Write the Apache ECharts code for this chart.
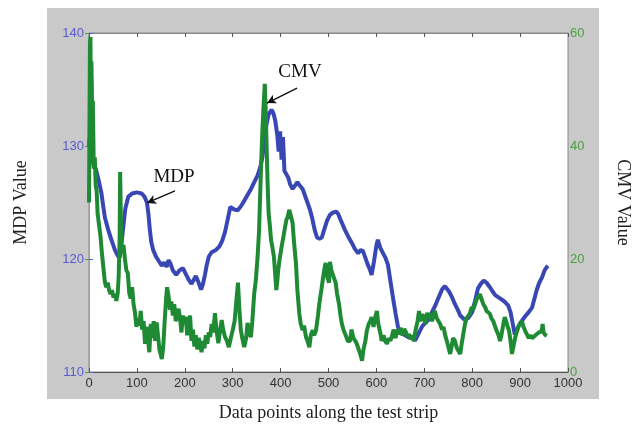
<!DOCTYPE html>
<html>
<head>
<meta charset="utf-8">
<script src="https://cdn.jsdelivr.net/npm/echarts@6/dist/echarts.min.js"></script>
<style>html,body{margin:0;padding:0;background:#fff;}#c{width:637px;height:428px;}</style>
</head>
<body>
<div id="c"></div>
<script>
// X tick labels
const xTicks = [0,100,200,300,400,500,600,700,800,900,1000];
// MDP series: [data point index, MDP value]
const mdpData = [[0,130],[2,130.8],[5,129.5],[9,128.4],[14,128],[20,127],[26,125.8],[33,123.7],[40,122.6],[46,121.8],[54,120.8],[60,120.3],[64,120.1],[68,121.5],[72,123],[76,124.5],[82,125.5],[90,125.8],[100,125.9],[110,125.8],[116,125.5],[121,125],[124,124],[127,122.6],[130,121.5],[134,120.8],[140,120.2],[146,119.8],[152,119.4],[157,119.7],[162,119.3],[166,119.9],[170,119.6],[175,119.0],[182,118.6],[189,119.0],[196,119.2],[203,118.6],[209,118.1],[214,117.8],[218,117.9],[223,118.5],[228,118.0],[234,117.3],[238,117.8],[242,118.6],[246,119.5],[250,120.2],[256,120.6],[265,120.8],[272,121.1],[278,121.6],[284,122.4],[290,123.6],[295,124.6],[302,124.4],[310,124.3],[316,124.6],[322,125],[330,125.6],[337,126.1],[345,126.8],[352,127.4],[358,128.2],[362,129],[366,130.5],[370,131.8],[375,132.8],[381,133.2],[385,132.9],[389,132.2],[393,131],[396,129.5],[399,131.3],[402,128.8],[405,130.8],[408,127.8],[412,127.5],[416,127.2],[420,126.6],[425,126.2],[430,126.5],[435,126.8],[440,126.5],[446,126.2],[451,125.6],[456,125],[461,124.4],[466,123.6],[471,122.6],[476,121.9],[481,121.8],[486,121.9],[491,122.6],[497,123.4],[503,123.9],[509,124.1],[516,124.2],[520,124],[527,123.3],[534,122.6],[541,122],[549,121.4],[555,120.9],[562,120.5],[567,120.8],[572,120.7],[577,120.1],[582,119.5],[587,119],[590,118.6],[595,119.8],[600,121.2],[603,121.7],[608,121],[614,120.5],[619,120.1],[624,119.5],[628,118.4],[632,117.3],[636,116.2],[640,115.2],[645,114],[650,113.5],[658,113.3],[666,113.1],[674,113],[681,112.8],[688,113.4],[695,114],[701,114.3],[708,114.6],[715,115.2],[722,115.8],[729,116.5],[737,117.3],[743,117.6],[747,117.5],[752,117.1],[758,116.6],[764,116],[770,115.5],[775,115],[780,114.8],[785,114.6],[792,114.8],[800,115.3],[806,116.3],[812,117.4],[818,117.8],[824,118.1],[830,117.9],[837,117.5],[843,117.1],[848,116.8],[855,116.6],[862,116.4],[868,116.2],[875,115.9],[880,115.3],[885,114.2],[889,113.3],[894,113.8],[900,114.3],[905,114.6],[910,114.9],[918,115.3],[925,115.7],[930,116.5],[935,117.3],[940,117.9],[946,118.4],[951,119],[956,119.3],[958,119.4]];
// CMV series: [data point index, CMV value]
const cmvData = [[0,30],[2,58],[3,59.3],[4,45],[5,55],[6,50],[7,40],[8,48],[9,42],[10,36],[12,38],[14,33],[16,32],[18,28],[21,26],[24,24],[27,21],[30,18.5],[33,16],[36,15],[39,15.8],[42,14.5],[45,13.8],[48,14.5],[51,13.2],[54,13.8],[57,12.6],[60,14],[62,17],[64,24],[65,35.4],[66,30],[67,24],[69,21],[72,22.5],[75,20],[78,18],[81,17.5],[84,14],[87,13],[90,15],[93,12],[96,10.5],[99,8],[102,9.5],[105,8.2],[108,10.8],[111,7.5],[114,9],[117,5],[120,8],[123,6],[126,3.5],[129,8.5],[132,6],[135,9],[138,5.5],[141,8.8],[144,6.5],[147,4],[150,3],[152,2.3],[155,4.5],[158,9],[161,13],[163,15],[166,13.5],[169,11],[172,12.5],[175,10],[178,12],[181,9],[184,10],[187,11.2],[190,9.5],[193,7],[196,10],[199,8.5],[202,9.8],[205,6.5],[208,8],[211,10],[214,5.5],[217,7.5],[220,4.5],[223,6.5],[226,4],[229,6],[232,5],[235,3.5],[238,5.5],[241,4.2],[244,6.5],[247,5],[250,7],[253,6.2],[256,8.5],[259,7],[263,10.4],[266,7.5],[270,5.1],[273,7],[277,9.2],[280,7.5],[284,6.2],[288,5.5],[292,4.4],[296,6],[300,7.4],[304,9],[307,12],[311,15.8],[314,11],[317,7.4],[320,6],[324,4.4],[328,6],[331,8.7],[334,7],[338,6.2],[341,9],[345,14],[348,16],[352,20.4],[355,25],[359,35.8],[362,42.8],[365,48],[367,51],[369,46],[371,39.3],[373,33],[375,28.1],[378,25.5],[380,23.4],[383,22],[386,20.4],[389,17],[391,14.5],[393,16],[395,18],[398,20],[401,21.6],[405,23.5],[408,25],[412,26.9],[415,27.5],[418,28.7],[421,27.8],[425,26.4],[428,23],[432,19.3],[435,14.5],[439,10.4],[442,8.5],[446,7.4],[449,8.2],[453,6.2],[456,5.5],[460,4.4],[463,6.5],[467,7.4],[470,6.5],[474,7.4],[478,10],[481,12.2],[485,14.5],[488,16.3],[491,18],[494,19.3],[497,17],[501,15.8],[503,19.5],[506,18],[508,17.5],[512,16.5],[515,15.8],[518,13.8],[522,12],[525,10],[528,8.5],[532,7.3],[536,6.5],[540,5.5],[545,5.5],[548,7.5],[552,6],[556,5.5],[559,5],[563,4],[567,3],[570,2],[573,4],[577,5.5],[580,7.3],[584,8.5],[587,9],[590,9.7],[594,8],[597,9.5],[601,10.8],[604,8.5],[608,7],[611,5.5],[615,6.5],[618,5.5],[622,5],[626,6],[629,5.5],[632,6.2],[636,7.5],[640,6],[643,7.5],[647,6.7],[651,7.8],[654,6.5],[658,7.6],[662,7],[665,6.2],[668,6.7],[672,5.8],[675,6.5],[678,5.5],[682,7.5],[686,9],[689,10.8],[692,9],[696,10.2],[699,9.7],[703,8.5],[706,10.5],[709,9.5],[712,10.3],[716,9],[719,10],[722,10.8],[726,9.5],[729,9.8],[733,8.5],[737,7.5],[740,8],[743,6.7],[747,5.5],[750,4.5],[754,3.2],[757,4.5],[760,6],[764,5.5],[768,4.2],[771,4],[775,3.2],[778,5],[782,7],[785,8.5],[788,9.5],[792,9.8],[795,10.3],[799,11.5],[802,11],[806,12],[809,12.8],[812,13.2],[816,13.8],[820,12.8],[823,12],[827,11.5],[830,10.8],[833,11],[837,10.3],[840,9.5],[844,9],[848,8],[851,7.3],[855,6.5],[858,5.5],[861,6.5],[865,8.5],[868,9.7],[871,9],[874,8],[877,7.3],[880,5.5],[883,3.2],[886,4.5],[890,6.2],[894,7.3],[897,8.2],[901,8.5],[904,9],[907,8],[911,7.2],[914,6.7],[918,6],[921,6.5],[925,6],[929,6.2],[932,6.5],[936,6.3],[939,7],[942,6.7],[945,7.2],[947,8.5],[949,7],[952,6.6],[956,6.4]];
// Annotations (data coordinates on MDP axis)
const annoLabels = [{name:'MDP', coord:[177.5,127.26]},{name:'CMV', coord:[440.5,136.55]}];
const annoArrows = [[[179.5,126.02],[121.1,124.96]],[[434.2,135.13],[371.6,133.8]]];

const chart = echarts.init(document.getElementById('c'), null, {renderer:'canvas'});
const serif = 'Liberation Serif';
const sans = 'Liberation Sans';
chart.setOption({
  animation:false,
  backgroundColor:'#ffffff',
  graphic:[{type:'rect', z:-10, shape:{x:47,y:8,width:552,height:391}, style:{fill:'#c9c9c9'}}],
  grid:{left:89,right:69,top:33,bottom:56,containLabel:false,outerBoundsMode:'none',show:true,backgroundColor:'#ffffff',borderColor:'#8a8a8a',borderWidth:1},
  xAxis:[{
    type:'value',min:0,max:1000,interval:100,position:'bottom',
    name:'Data points along the test strip',nameLocation:'middle',nameGap:32,
    nameTextStyle:{fontFamily:serif,fontSize:18,color:'#222'},
    axisLine:{lineStyle:{color:'#555',width:1}},
    axisTick:{inside:true,length:4,lineStyle:{color:'#555'}},
    axisLabel:{fontFamily:sans,fontSize:13,color:'#333',margin:5,formatter:v=>xTicks.includes(v)?String(v):''},
    splitLine:{show:false}
  },{
    type:'value',min:0,max:1000,interval:100,position:'top',
    axisLine:{lineStyle:{color:'#888',width:1}},
    axisTick:{inside:true,length:4,lineStyle:{color:'#555'}},
    axisLabel:{show:false},splitLine:{show:false}
  }],
  yAxis:[{
    type:'value',min:110,max:140,interval:10,position:'left',
    name:'MDP Value',nameLocation:'middle',nameGap:59,nameRotate:90,
    nameTextStyle:{fontFamily:serif,fontSize:18,color:'#222'},
    axisLine:{show:true,lineStyle:{color:'#8a8ae0',width:1}},
    axisTick:{inside:true,length:4,lineStyle:{color:'#5a5ad0'}},
    axisLabel:{fontFamily:sans,fontSize:13,color:'#5a5ad0',margin:5},
    splitLine:{show:false}
  },{
    type:'value',min:0,max:60,interval:20,position:'right',
    name:'CMV Value',nameLocation:'middle',nameGap:46,nameRotate:-90,
    nameTextStyle:{fontFamily:serif,fontSize:18,color:'#222'},
    axisLine:{show:true,lineStyle:{color:'#6cbf5c',width:1}},
    axisTick:{inside:true,length:4,lineStyle:{color:'#4aa040'}},
    axisLabel:{fontFamily:sans,fontSize:13,color:'#4aa040',margin:2},
    splitLine:{show:false}
  }],
  series:[{
    type:'line',name:'MDP',xAxisIndex:0,yAxisIndex:0,data:mdpData,showSymbol:false,
    lineStyle:{color:'#3947b5',width:4},itemStyle:{color:'#3947b5'},z:2,
    markLine:{silent:true,symbol:['none','arrow'],symbolSize:[7,9],precision:4,
      lineStyle:{color:'#111',width:1.4,type:'solid'},label:{show:false},
      data:annoArrows.map(a=>[{coord:a[0]},{coord:a[1]}])},
    markPoint:{silent:true,symbol:'circle',symbolSize:0,
      label:{show:true,position:'inside',formatter:'{b}',fontFamily:serif,fontSize:19,color:'#111'},
      data:annoLabels.map(a=>({name:a.name,coord:a.coord}))}
  },{
    type:'line',name:'CMV',xAxisIndex:0,yAxisIndex:1,data:cmvData,showSymbol:false,
    lineStyle:{color:'#1f8a34',width:4},itemStyle:{color:'#1f8a34'},z:3
  }]
});
</script>
</body>
</html>
